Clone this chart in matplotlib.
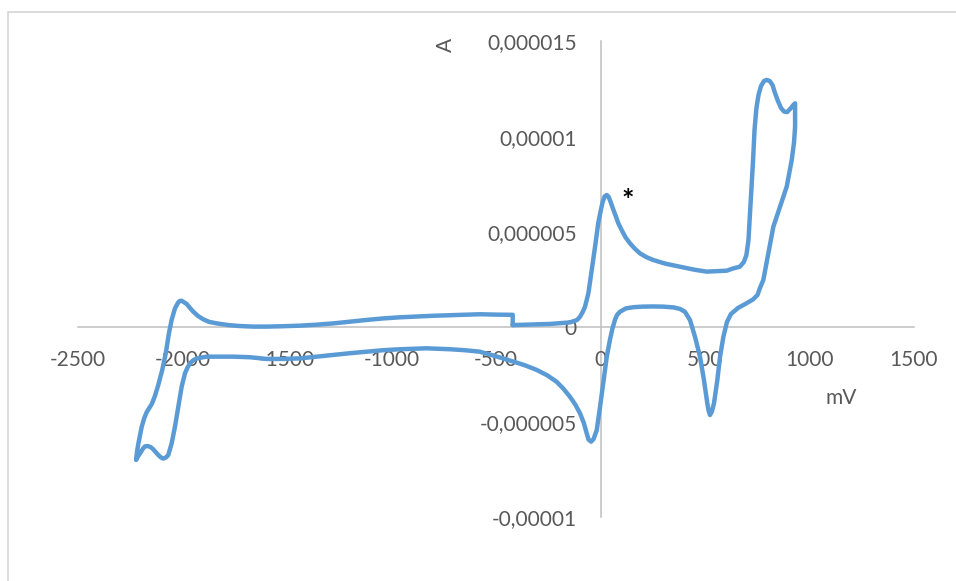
import numpy as np
import matplotlib
matplotlib.use("Agg")
import matplotlib.pyplot as plt
from matplotlib.patches import Rectangle

# Potential (mV) and current (microampere)
potential_mV = [
    # forward (anodic) scan from the step at -420 mV to the vertex at 931 mV
    -420, -337, -242, -146, -112, -98, -85, -74, -58, -42, -26, -11, 0, 10, 20, 30, 38,
    48, 60, 72, 85, 101, 120, 141, 165, 189, 220, 253, 310, 380, 450, 508, 560, 604, 635,
    667, 686, 698, 708, 715, 722, 730, 737, 746, 756, 768, 782, 796, 810, 823, 835, 849,
    864, 878, 893, 907, 921, 931,
    # reverse (cathodic) scan down to -2222 mV
    931, 926, 915, 891, 859, 827, 803, 779, 763, 751, 730, 696, 658, 624, 605, 588, 572,
    559, 543, 533, 524, 517, 511, 495, 476, 452, 428, 404, 380, 350, 300, 250, 200, 157,
    122, 93, 79, 69, 57, 45, 30, 13, -2, -18, -33, -45, -57, -66, -80, -98, -120, -146,
    -178, -210, -255, -305, -360, -417, -500, -577, -650, -720, -832, -959, -1040, -1119,
    -1200, -1278, -1360, -1438, -1520, -1597, -1677, -1757, -1884, -1932, -1950, -1964,
    -1976, -1988, -2004, -2020, -2036, -2052, -2068, -2079, -2092, -2103, -2116, -2140,
    -2153, -2167, -2180, -2188, -2203, -2215, -2222,
    # forward scan back to the start
    -2218, -2211, -2195, -2183, -2171, -2147, -2132, -2116, -2097, -2080, -2065, -2052,
    -2036, -2020, -2013, -2004, -1994, -1980, -1965, -1948, -1926, -1900, -1873, -1836,
    -1780, -1725, -1660, -1597, -1520, -1438, -1360, -1278, -1200, -1119, -1040, -959,
    -880, -800, -690, -577, -500, -420, -420,
]
current_uA = [
    0.09, 0.12, 0.15, 0.23, 0.36, 0.53, 0.78, 1.06, 1.76, 2.99, 4.21, 5.44, 6.05, 6.55,
    6.86, 6.93, 6.85, 6.58, 6.20, 5.85, 5.45, 5.09, 4.70, 4.39, 4.10, 3.86, 3.66, 3.51,
    3.32, 3.16, 3.00, 2.90, 2.93, 2.95, 3.07, 3.16, 3.41, 3.77, 4.56, 5.88, 7.19, 8.77,
    10.35, 11.50, 12.19, 12.66, 12.92, 12.98, 12.92, 12.71, 12.29, 11.87, 11.50, 11.32,
    11.29, 11.45, 11.64, 11.75,
    10.52, 9.70, 8.77, 7.37, 6.31, 5.26, 3.86, 2.46, 2.04, 1.67, 1.44, 1.22, 0.99, 0.67,
    0.25, -0.52, -1.57, -2.80, -4.02, -4.45, -4.64, -4.40, -4.02, -2.80, -1.57, -0.52,
    0.36, 0.79, 0.94, 1.02, 1.06, 1.07, 1.06, 1.03, 0.97, 0.79, 0.62, 0.36, -0.10, -0.69,
    -1.57, -2.97, -4.20, -5.43, -5.90, -6.04, -5.93, -5.60, -5.05, -4.55, -4.10, -3.68,
    -3.25, -2.89, -2.55, -2.27, -2.03, -1.83, -1.55, -1.31, -1.23, -1.18, -1.13, -1.18,
    -1.23, -1.31, -1.39, -1.48, -1.58, -1.66, -1.69, -1.69, -1.60, -1.57, -1.57, -1.66,
    -1.77, -1.92, -2.14, -2.44, -3.15, -4.20, -5.25, -6.13, -6.74, -6.87, -6.93, -6.87,
    -6.74, -6.44, -6.32, -6.27, -6.29, -6.39, -6.65, -6.85, -7.00,
    -6.60, -6.13, -5.25, -4.80, -4.48, -4.06, -3.64, -3.06, -2.27, -1.39, -0.34, 0.36,
    0.97, 1.29, 1.36, 1.37, 1.30, 1.20, 1.00, 0.79, 0.57, 0.39, 0.26, 0.18, 0.09, 0.04,
    0.01, 0.01, 0.03, 0.06, 0.11, 0.18, 0.27, 0.36, 0.44, 0.50, 0.54, 0.58, 0.62, 0.66,
    0.64, 0.63, 0.09,
]

x_ticks = [-2500, -2000, -1500, -1000, -500, 0, 500, 1000, 1500]
x_tick_labels = ["-2500", "-2000", "-1500", "-1000", "-500", "0", "500", "1000", "1500"]
y_ticks = [-0.00001, -0.000005, 0, 0.000005, 0.00001, 0.000015]
y_tick_labels = ["-0,00001", "-0,000005", "0", "0,000005", "0,00001", "0,000015"]

x_label = "mV"
y_label = "A"
peak_mark = "*"
peak_mark_pos = (132, 0.0000066)

current_A = np.array(current_uA) * 1e-6

plt.rcParams['font.family'] = ['Lato', 'DejaVu Sans']
text_color = "#595959"
axis_color = "#BFBFBF"
line_color = "#5B9BD5"

fig = plt.figure(figsize=(9.56, 5.81), dpi=100)
fig.patch.set_facecolor("white")

# outer chart border (cropped on right/bottom)
fig.patches.append(Rectangle((8 / 956, -0.1), 1.2, (581 - 12) / 581 + 0.1,
                             transform=fig.transFigure, fill=False,
                             edgecolor="#D9D9D9", linewidth=1.3, zorder=0))

ax = fig.add_axes([78 / 956, (581 - 517) / 581, (914 - 78) / 956, (517 - 41.5) / 581])
ax.set_facecolor("none")

ax.plot(potential_mV, current_A, color=line_color, linewidth=3.2,
        solid_joinstyle="round", solid_capstyle="round", zorder=3)

ax.set_xlim(-2500, 1500)
ax.set_ylim(-0.00001, 0.000015)

for side in ["top", "right"]:
    ax.spines[side].set_visible(False)
ax.spines["left"].set_position(("data", 0))
ax.spines["bottom"].set_position(("data", 0))
for side in ["left", "bottom"]:
    ax.spines[side].set_color(axis_color)
    ax.spines[side].set_linewidth(1.1)
    ax.spines[side].set_zorder(1)

ax.set_xticks(x_ticks)
ax.set_xticklabels(x_tick_labels)
ax.set_yticks(y_ticks)
ax.set_yticklabels(y_tick_labels)
ax.tick_params(axis="x", length=0, pad=17, labelsize=15, colors=text_color)
ax.tick_params(axis="y", length=0, pad=17, labelsize=15, colors=text_color)

ax.text((841 - 78) / (914 - 78), (517 - 398) / (517 - 41.5), x_label,
        transform=ax.transAxes, ha="center", va="center", fontsize=15, color=text_color)
ax.text((446 - 78) / (914 - 78), (517 - 45) / (517 - 41.5), y_label, rotation=90,
        transform=ax.transAxes, ha="center", va="center", fontsize=15, color=text_color)
ax.text(peak_mark_pos[0], peak_mark_pos[1], peak_mark, ha="center", va="center",
        fontsize=21, color="black", fontweight="bold")

fig.savefig("out.png", dpi=100, facecolor="white")
